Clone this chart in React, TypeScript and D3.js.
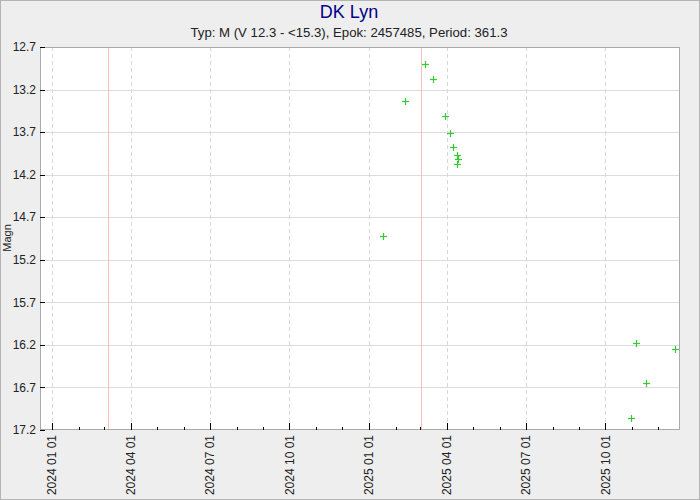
import React from "react";
import * as d3 from "d3";

const TITLE = "DK Lyn";
const SUBTITLE = "Typ: M (V 12.3 - <15.3), Epok: 2457485, Period: 361.3";
const EPOCH = 2457485;
const PERIOD = 361.3;

// Observations: Julian date, magnitude
const obsJD = [
  2460693.0, 2460718.4, 2460741.5, 2460750.8, 2460764.6, 2460770.4, 2460773.9,
  2460778.5, 2460779.7, 2460778.1, 2460979.6, 2460985.3, 2460996.9, 2461030.4,
];
const obsMag = [
  14.92, 13.34, 12.9, 13.08, 13.51, 13.71, 13.88, 13.97, 14.02, 14.07, 17.06,
  16.18, 16.65, 16.25,
];

const xDomainJD = [2460296.3, 2461035.8];
const yTicks = [12.7, 13.2, 13.7, 14.2, 14.7, 15.2, 15.7, 16.2, 16.7, 17.2];

const W = 700;
const H = 500;
const L = 40;
const R = 680;
const T = 47;
const B = 430;

const jdToDate = (jd: number) => new Date((jd - 2440587.5) * 86400000);

export default function App() {
  const x = d3
    .scaleUtc()
    .domain([jdToDate(xDomainJD[0]), jdToDate(xDomainJD[1])])
    .range([L, R]);
  const y = d3.scaleLinear().domain([12.7, 17.2]).range([T, B]);

  const months = d3.utcMonth.range(x.domain()[0], x.domain()[1]);
  const quarters = months.filter((d) => d.getUTCMonth() % 3 === 0);
  const fmt = d3.utcFormat("%Y %m %d");

  // maxima epochs within range
  const maxima: number[] = [];
  const kStart = Math.ceil((xDomainJD[0] - EPOCH) / PERIOD);
  for (let k = kStart; EPOCH + k * PERIOD <= xDomainJD[1]; k++) {
    maxima.push(EPOCH + k * PERIOD);
  }

  const font = "Arial, 'Liberation Sans', sans-serif";
  const cs = 3.5;

  return (
    <svg
      width={W}
      height={H}
      style={{ position: "absolute", left: 0, top: 0, fontFamily: font }}
    >
      <rect x={0.5} y={0.5} width={W - 1} height={H - 1} fill="#eeeeee" stroke="#b4b4b4" />
      <text x={349} y={18} textAnchor="middle" fontSize={18} fill="#00008b">
        {TITLE}
      </text>
      <text x={349} y={37} textAnchor="middle" fontSize={13.2} fill="#222">
        {SUBTITLE}
      </text>
      <rect x={L} y={T} width={R - L} height={B - T} fill="#ffffff" />
      {/* y grid */}
      {yTicks.slice(1, -1).map((t) => (
        <line key={"yg" + t} x1={L} x2={R} y1={Math.round(y(t)) + 0.5} y2={Math.round(y(t)) + 0.5} stroke="#dcdcdc" />
      ))}
      {/* x grid dashed */}
      {quarters.map((d) => (
        <line
          key={"xg" + d.getTime()}
          x1={Math.round(x(d)) + 0.5}
          x2={Math.round(x(d)) + 0.5}
          y1={T}
          y2={B}
          stroke="#d8d8d8"
          strokeDasharray="4,3"
        />
      ))}
      {/* maxima lines */}
      {maxima.map((m) => (
        <line
          key={"mx" + m}
          x1={Math.round(x(jdToDate(m))) + 0.5}
          x2={Math.round(x(jdToDate(m))) + 0.5}
          y1={T}
          y2={B}
          stroke="#ffbcbc"
        />
      ))}
      {/* points */}
      {obsJD.map((jd, i) => {
        const px = Math.round(x(jdToDate(jd))) + 0.5;
        const py = Math.round(y(obsMag[i])) + 0.5;
        return (
          <g key={"p" + i} stroke="#33cc33" strokeWidth={1.2}>
            <line x1={px - cs} x2={px + cs} y1={py} y2={py} />
            <line x1={px} x2={px} y1={py - cs} y2={py + cs} />
          </g>
        );
      })}
      <rect x={L + 0.5} y={T + 0.5} width={R - L - 1} height={B - T - 1} fill="none" stroke="#aaaaaa" />
      {/* y ticks */}
      {yTicks.map((t) => (
        <g key={"yt" + t}>
          <line x1={L} x2={L + 5} y1={Math.round(y(t)) + 0.5} y2={Math.round(y(t)) + 0.5} stroke="#000" />
          <text x={36} y={y(t)} dy="0.35em" textAnchor="end" fontSize={12} fill="#222">
            {t.toFixed(1)}
          </text>
        </g>
      ))}
      {/* x ticks */}
      {months.map((d) => {
        const major = d.getUTCMonth() % 3 === 0;
        const px = Math.round(x(d)) + 0.5;
        return (
          <line key={"xt" + d.getTime()} x1={px} x2={px} y1={B} y2={B - (major ? 7 : 3)} stroke="#000" />
        );
      })}
      {quarters.map((d) => (
        <text
          key={"xl" + d.getTime()}
          transform={`translate(${x(d)},${B + 5}) rotate(-90)`}
          dy="0.35em"
          textAnchor="end"
          fontSize={12}
          fill="#222"
        >
          {fmt(d)}
        </text>
      ))}
      <text transform={`translate(11,238) rotate(-90)`} textAnchor="middle" fontSize={11} fill="#222">
        Magn
      </text>
    </svg>
  );
}
